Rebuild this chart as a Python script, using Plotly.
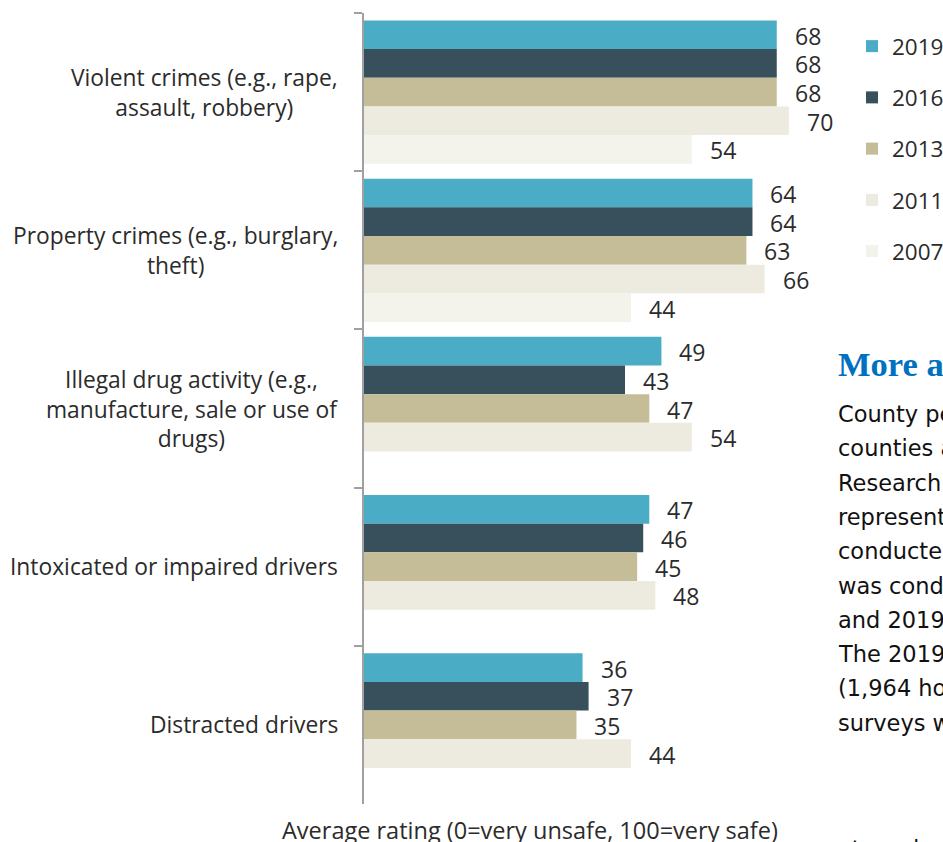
import plotly.graph_objs as go

categories = ['Violent crimes (e.g., rape,<br>assault, robbery)',
              'Property crimes (e.g., burglary,<br>theft)',
              'Illegal drug activity (e.g.,<br>manufacture, sale or use of<br>drugs)',
              'Intoxicated or impaired drivers',
              'Distracted drivers']

years = ['2019', '2016', '2013', '2011', '2007']
values_2019 = [68, 64, 49, 47, 36]
values_2016 = [68, 64, 43, 46, 37]
values_2013 = [68, 63, 47, 45, 35]
values_2011 = [70, 66, 54, 48, 44]
values_2007 = [54, 44, None, None, None]

colors = ['#4BACC6', '#37505B', '#C4BD97', '#EDEBE0', '#F3F3EC']

side_heading = 'More about the survey'
side_lines = ['County perception surveys have been conducted in',
              'counties across the state by the Survey',
              'Research Center using a statistically',
              'representative sample. The first survey was',
              'conducted in 2007. Each subsequent survey',
              'was conducted in 2011, 2013, 2016',
              'and 2019 using the same methodology.',
              'The 2019 survey had a 41% response rate',
              '(1,964 households responded). Past',
              'surveys were mailed to households.']
side_after = 'at random in each county.'

series = [values_2019, values_2016, values_2013, values_2011, values_2007]

font = 'Open Sans'
text_color = '#2b2b2b'

px_per_unit = 6.07
plot_w = 943 - 364
plot_h = 842 - 13 - 38
bargap = 0.094
slot = plot_h / len(categories) * (1 - bargap) / len(years)


def paper_y(py):
    return 1 - (py - 13) / plot_h


def paper_x(px):
    return (px - 364) / plot_w


data = []
for i, (yr, vals) in enumerate(zip(years, series)):
    data.append(go.Bar(name=yr, y=categories, x=vals, orientation='h',
                       marker=dict(color=colors[i], line=dict(width=0)),
                       legendgroup=yr))

annotations = []
# value labels next to each bar
for i, vals in enumerate(series):
    for cat, v in zip(categories, vals):
        if v is None:
            continue
        annotations.append(dict(x=v, y=cat, xref='x', yref='y', text=str(v),
                                showarrow=False, xanchor='left', yanchor='middle',
                                xshift=16, yshift=-(i - 2) * slot - 1,
                                font=dict(family=font, size=23, color=text_color)))

# category labels (centred lines, right aligned block)
for cat in categories:
    annotations.append(dict(x=0, y=cat, xref='paper', yref='y', text=cat,
                            showarrow=False, xanchor='right', yanchor='middle',
                            align='center', xshift=-24,
                            font=dict(family=font, size=22.8, color=text_color)))

# axis title
annotations.append(dict(x=paper_x(530), y=paper_y(830), xref='paper', yref='paper',
                        text='Average rating (0=very unsafe, 100=very safe)',
                        showarrow=False, xanchor='center', yanchor='middle',
                        font=dict(family=font, size=23.5, color=text_color)))

# side text
annotations.append(dict(x=paper_x(838), y=paper_y(364),
                        xref='paper', yref='paper', text='<b>' + side_heading + '</b>',
                        showarrow=False, xanchor='left', yanchor='middle', xshift=-2,
                        font=dict(family='Liberation Serif', size=34.5, color='#0070C0')))
for k, line in enumerate(side_lines + [side_after]):
    yc = 414 + k * 34.3 if k < len(side_lines) else 849
    annotations.append(dict(x=paper_x(838), y=paper_y(yc),
                            xref='paper', yref='paper', text=line,
                            showarrow=False, xanchor='left', yanchor='middle',
                            xshift=-2,
                            font=dict(family='DejaVu Sans', size=22.5, color='#111111')))

layout = go.Layout(
    width=943, height=842,
    margin=dict(l=364, r=0, t=13, b=38, autoexpand=False),
    paper_bgcolor='white', plot_bgcolor='white',
    barmode='group', bargap=bargap, bargroupgap=0,
    font=dict(family=font, size=22, color=text_color),
    xaxis=dict(range=[0, plot_w / px_per_unit], showgrid=False, zeroline=False,
               showticklabels=False, showline=False, ticks=''),
    yaxis=dict(type='category', autorange='reversed', showgrid=False,
               showticklabels=False, showline=True, linecolor='#A0A0A0', linewidth=2,
               ticks='outside', tickson='boundaries', ticklen=8, tickcolor='#A0A0A0',
               tickwidth=2),
    legend=dict(x=paper_x(852), y=paper_y(25),
                xanchor='left', yanchor='top', traceorder='grouped',
                tracegroupgap=19, font=dict(family=font, size=22.5, color=text_color),
                bgcolor='rgba(0,0,0,0)'),
    annotations=annotations,
    showlegend=True,
)

fig = go.Figure(data=data, layout=layout)
fig.write_html('out.html', config={'displayModeBar': False},
               post_script="document.body.style.margin='0';"
                           "document.body.style.overflow='hidden';")
